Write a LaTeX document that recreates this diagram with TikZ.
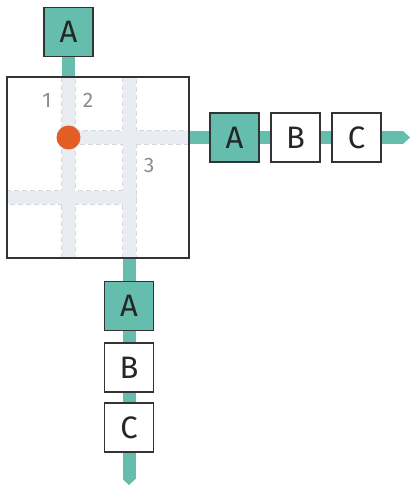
\documentclass[tikz,border=0pt]{standalone}
\usepackage{fontspec}
\setmainfont{Fira Sans}
\usetikzlibrary{positioning}
\definecolor{mint}{RGB}{101,190,173}
\definecolor{rust}{RGB}{227,94,38}
\definecolor{lane}{RGB}{233,236,241}
\definecolor{laneedge}{RGB}{212,215,221}
\definecolor{ink}{RGB}{51,51,51}

\begin{document}
\begin{tikzpicture}[x=1pt,y=-1pt,
  cell/.style={draw=ink,line width=1.3pt,minimum width=49pt,minimum height=49pt,inner sep=0pt,text=black!85,font=\fontsize{31}{31}\selectfont},
  stripe/.style={draw=mint,line width=13pt},
  bandedge/.style={draw=laneedge,line width=1.3pt,dash pattern=on 5pt off 3pt},
  num/.style={text=black!45,font=\fontsize{21}{21}\selectfont}]
\useasboundingbox (0,0) rectangle (410,486);

% lanes inside the grid
\foreach \x in {68.5,129.5}
    \draw[bandedge] (\x-6.5,77) rectangle (\x+6.5,258);
\draw[bandedge] (68.5,131) rectangle (189,144);
\draw[bandedge] (7,191) rectangle (136,204);
\foreach \x in {68.5,129.5}
    \fill[lane] (\x-6.5,77) rectangle (\x+6.5,258);
\fill[lane] (68.5,131) rectangle (189,144);
\fill[lane] (7,191) rectangle (136,204);

\node[draw=ink,line width=1.3pt,minimum width=182pt,minimum height=181pt,inner sep=0pt] (frame) at (98,167.5) {};
\node[circle,fill=rust,minimum size=24pt,inner sep=0pt] (hub) at (68.5,137.5) {};

% top input
\node[cell,fill=mint] (topA) at (68.5,32) {A};
\draw[stripe] (topA.south) -- (topA.south |- frame.north);

% output to the right
\coordinate (rtip) at (403,137.5);
\draw[stripe] (frame.east |- hub) -- (rtip);
\fill[mint] (rtip) ++(0,-6.5) -- ++(7,6.5) -- ++(-7,6.5) -- cycle;
\foreach \t/\c/\x in {A/mint/234.5, B/white/295.5, C/white/356.5}
    \node[cell,fill=\c] (r\t) at (\x,137.5) {\t};

% output downwards
\coordinate (btip) at (129,479);
\draw[stripe] (frame.south -| btip) -- (btip);
\fill[mint] (btip) ++(-6.5,0) -- ++(6.5,6) -- ++(6.5,-6) -- cycle;
\foreach \t/\c/\y in {A/mint/306, B/white/367.5, C/white/427.5}
    \node[cell,fill=\c] (b\t) at (129,\y) {\t};

% lane numbers
\node[num] (n1) at (47,100) {1};
\node[num] (n2) at (88,100) {2};
\node[num] (n3) at (149,165) {3};
\end{tikzpicture}
\end{document}
